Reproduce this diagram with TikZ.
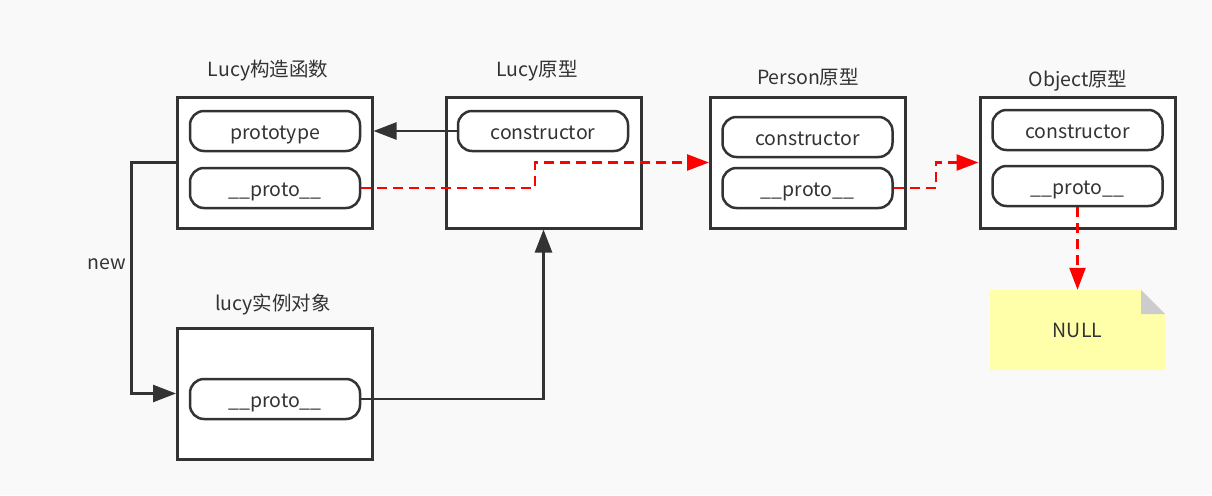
\documentclass[tikz,border=0pt]{standalone}
\usepackage{xcolor}
\usepackage{fontspec}
\setmainfont{Noto Sans CJK SC}
\usetikzlibrary{arrows.meta}
\definecolor{ink}{HTML}{333333}
\definecolor{paper}{HTML}{F9F9F9}
\definecolor{notefill}{HTML}{FFFFAA}
\definecolor{notefold}{HTML}{CCCCCC}

\begin{document}
\begin{tikzpicture}[x=1pt,y=-1pt]
	\tikzset{
		objbox/.style={draw=ink,line width=3pt,fill=white,minimum width=195pt,minimum height=131pt,inner sep=0pt},
		slot/.style={draw=ink,line width=2.5pt,rounded corners=14pt,minimum width=170pt,minimum height=40pt,inner sep=0pt,text height=19pt,text depth=2pt,text=ink,font=\fontsize{19.5}{23}\selectfont},
		caption/.style={text=ink,inner sep=0pt,font=\fontsize{19.5}{23}\selectfont},
		link/.style={draw=ink,line width=2.5pt,-{Triangle[length=23pt,width=17pt]}},
		protolink/.style={draw=red,line width=2.5pt,dash pattern=on 10pt off 6pt,-{Triangle[length=22pt,width=16pt]}},
		notebox/.style={minimum width=175pt,minimum height=80pt,inner sep=0pt,text=ink,font=\fontsize{19.5}{23}\selectfont,
			path picture={
				\fill[notefill] (path picture bounding box.north west) -- ([xshift=-24pt]path picture bounding box.north east) -- ([yshift=-24pt]path picture bounding box.north east) -- (path picture bounding box.south east) -- (path picture bounding box.south west) -- cycle;
				\fill[notefold] ([xshift=-24pt]path picture bounding box.north east) -- ([xshift=-24pt,yshift=-24pt]path picture bounding box.north east) -- ([yshift=-24pt]path picture bounding box.north east) -- cycle;
			}}
	}
	\fill[paper] (0,0) rectangle (1212,495);
	\useasboundingbox (0,0) rectangle (1212,495);
	
	\node[objbox] (ctorbox) at (274.5,162.5) {};
	\node[objbox] (lucybox) at (543.5,162.5) {};
	\node[objbox] (personbox) at (808,162.5) {};
	\node[objbox] (objectbox) at (1077.5,162.5) {};
	\node[objbox] (instbox) at (275,393.5) {};
	
	\node[caption] (ctortitle) at (268,71) {Lucy构造函数};
	\node[caption] (lucytitle) at (537,71) {Lucy原型};
	\node[caption] (persontitle) at (808,77) {Person原型};
	\node[caption] (objecttitle) at (1078,81) {Object原型};
	\node[caption] (insttitle) at (273,305) {lucy实例对象};
	
	\node[slot] (ctorprototype) at (275,131) {prototype};
	\node[slot] (ctorproto) at (275,188) {\_\_proto\_\_};
	\node[slot] (lucyconstructor) at (543,131) {constructor};
	\node[slot] (personconstructor) at (807.5,137) {constructor};
	\node[slot] (personproto) at (807.5,188) {\_\_proto\_\_};
	\node[slot] (objectconstructor) at (1077.5,130) {constructor};
	\node[slot] (objectproto) at (1077.5,186) {\_\_proto\_\_};
	\node[slot] (instproto) at (275,399) {\_\_proto\_\_};
	
	\node[notebox] (null) at (1077.5,330) {NULL};
	\coordinate (bendlucy) at (535,175);
	\coordinate (bendperson) at (936,175);
	
	\draw[link] (lucyconstructor.west) -- (ctorbox.east |- lucyconstructor.west);
	\draw[link] (ctorbox.west) -- ++(-44,0) |- (instbox.west) node[pos=0.22,left=4pt,caption] (newlabel) {new};
	\draw[link] (instproto.east) -| (lucybox.south);
	\draw[protolink] (ctorproto.east) -| (bendlucy) |- (personbox.west);
	\draw[protolink] (personproto.east) -| (bendperson) |- (objectbox.west);
	\draw[protolink] (objectproto.south) -- (null.north);
\end{tikzpicture}
\end{document}
